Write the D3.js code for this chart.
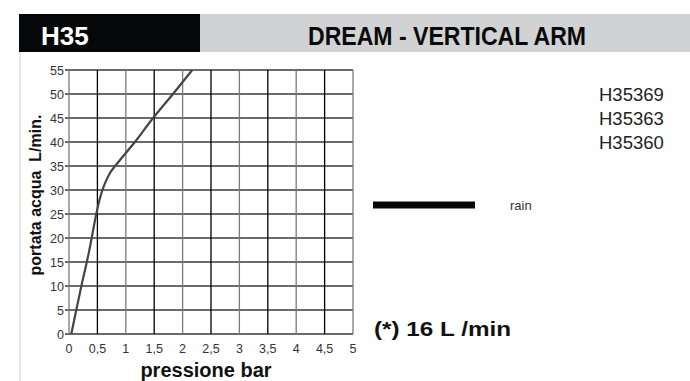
<!DOCTYPE html>
<html><head><meta charset="utf-8">
<script src="https://cdn.jsdelivr.net/npm/d3@7/dist/d3.min.js"></script>
<style>body{margin:0;background:#fff}svg{display:block;font-family:"Liberation Sans",Arial,sans-serif}</style>
</head><body><svg id="c" width="690" height="381"></svg>
<script>
const pressure = [0.04, 0.2, 0.35, 0.48, 0.55, 0.62, 0.72, 0.88, 1.16, 1.48, 1.83, 2.17];
const flow     = [0,    9,   17,   25,   28.5, 31,   33.5, 36,  40,   45,   50,   55];
const xTicks = [0,0.5,1,1.5,2,2.5,3,3.5,4,4.5,5];
const xTickLabels = ["0","0,5","1","1,5","2","2,5","3","3,5","4","4,5","5"];
const yTicks = [0,5,10,15,20,25,30,35,40,45,50,55];
const models = ["H35369","H35363","H35360"];
const seriesName = "rain";
const code = "H35", title = "DREAM - VERTICAL ARM";
const note = "(*) 16 L /min";

const svg = d3.select("#c");
// header
svg.append("rect").attr("x",200).attr("y",14).attr("width",490).attr("height",38).attr("fill","#d1d2d4");
svg.append("rect").attr("x",19).attr("y",14).attr("width",181).attr("height",38).attr("fill","#050708");
svg.append("text").attr("x",41).attr("y",45).attr("fill","#fff").attr("font-weight","bold").attr("font-size",26).text(code);
svg.append("text").attr("x",308).attr("y",45).attr("fill","#0a0a0a").attr("font-weight","bold").attr("font-size",25)
  .attr("textLength",278).attr("lengthAdjust","spacingAndGlyphs").text(title);
// left border
svg.append("rect").attr("x",19).attr("y",52).attr("width",2).attr("height",329).attr("fill","#e6e6e6");

const x = d3.scaleLinear().domain([0,5]).range([69,353]);
const y = d3.scaleLinear().domain([0,55]).range([334,70]);

const g = svg.append("g");
// horizontal grid
g.selectAll("line.h").data(yTicks).join("line")
  .attr("x1",65).attr("x2",x(5)).attr("y1",d=>y(d)).attr("y2",d=>y(d))
  .attr("stroke","#3a3a3a").attr("stroke-width",1.3);
// vertical grid
g.selectAll("line.v").data(xTicks).join("line")
  .attr("x1",d=>x(d)).attr("x2",d=>x(d)).attr("y1",y(55)).attr("y2",y(0))
  .attr("stroke",(d,i)=> i%2===1 ? "#000" : "#7a7a7a").attr("stroke-width",1.3);

// axis labels
g.selectAll("text.yt").data(yTicks).join("text")
  .attr("x",64).attr("y",d=>y(d)+4.5).attr("text-anchor","end")
  .attr("font-size",12.5).attr("fill","#333").text(d=>d);
g.selectAll("text.xt").data(xTicks).join("text")
  .attr("x",d=>x(d)).attr("y",353).attr("text-anchor","middle")
  .attr("font-size",12.5).attr("fill","#333").text((d,i)=>xTickLabels[i]);

svg.append("text").attr("x",206).attr("y",377).attr("text-anchor","middle")
  .attr("font-weight","bold").attr("font-size",20).attr("fill","#111").text("pressione bar");
svg.append("text").attr("transform","translate(40.5,195) rotate(-90)").attr("text-anchor","middle")
  .attr("font-weight","bold").attr("font-size",16).attr("fill","#111").attr("xml:space","preserve").text("portata acqua  L/min.");

// curve
const data = pressure.map((p,i)=>({p, f: flow[i]}));
svg.append("path").datum(data)
  .attr("d", d3.line().x(d=>x(d.p)).y(d=>y(d.f)).curve(d3.curveCatmullRom.alpha(0.5)))
  .attr("fill","none").attr("stroke","#444").attr("stroke-width",2.2);

// legend
svg.append("rect").attr("x",373).attr("y",201.5).attr("width",102).attr("height",7).attr("fill","#050708");
svg.append("text").attr("x",510).attr("y",210).attr("font-size",13).attr("fill","#333").text(seriesName);

svg.selectAll("text.m").data(models).join("text")
  .attr("x",599).attr("y",(d,i)=>101+i*24).attr("font-size",18.5).attr("fill","#222").text(d=>d);

svg.append("text").attr("x",374).attr("y",336).attr("font-weight","bold").attr("font-size",21).attr("fill","#111")
  .attr("textLength",137).attr("lengthAdjust","spacingAndGlyphs").text(note);
</script></body></html>
